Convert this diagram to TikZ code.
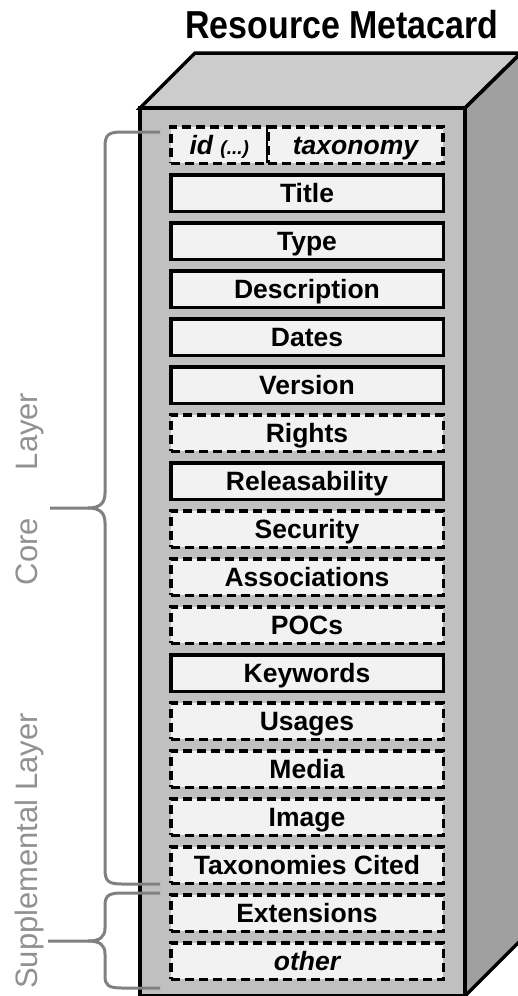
\documentclass[tikz,border=0pt]{standalone}
\usepackage{fontspec}
\setmainfont{Liberation Sans}
\usepackage{graphicx}
\definecolor{topgray}{RGB}{204,204,204}
\definecolor{frontgray}{RGB}{192,192,192}
\definecolor{sidegray}{RGB}{160,160,160}
\definecolor{cardfill}{RGB}{242,242,242}
\definecolor{bracegray}{RGB}{128,128,128}
\definecolor{labelgray}{RGB}{145,145,145}
\tikzset{
  field/.style={draw=black, line width=3.5pt, fill=cardfill,
    minimum width=272.5pt, minimum height=36.5pt, inner sep=2pt,
    text height=19pt, text depth=0pt,
    font=\fontsize{26.5}{30}\selectfont\bfseries},
  optfield/.style={field, dash pattern=on 9pt off 5pt},
  brace/.style={draw=bracegray, line width=3pt},
  layer/.style={rotate=90, anchor=base, text=labelgray,
    font=\fontsize{31}{36}\selectfont}
}

\begin{document}
\begin{tikzpicture}[x=1pt, y=-1pt]
    \useasboundingbox (0,0) rectangle (517,996);
    \node[anchor=base, font=\fontsize{39}{44}\selectfont\bfseries] (heading) at (342,38)
      {\scalebox{0.87}[1]{Resource Metacard}};
    % the card
    \filldraw[fill=topgray, line width=3.5pt] (140,108) -- (195,53) -- (521,53) -- (465,108) -- cycle;
    \filldraw[fill=sidegray, line width=3.5pt] (465,108) -- (521,53) -- (521,940) -- (465,996) -- cycle;
    \filldraw[fill=frontgray, line width=3.5pt] (140,108) rectangle (465,996);
    % fields
    \node[optfield, minimum width=97pt] (id) at (219.25,145)
      {\itshape id {\fontsize{19}{20}\selectfont(...)}};
    \node[optfield, minimum width=175pt] (taxonomy) at (355.5,145) {\itshape taxonomy};
    \node[field]    (title)        at (307,193) {Title};
    \node[field]    (type)         at (307,241) {Type};
    \node[field]    (description)  at (307,289) {Description};
    \node[field]    (dates)        at (307,337) {Dates};
    \node[field]    (version)      at (307,385) {Version};
    \node[optfield] (rights)       at (307,433) {Rights};
    \node[field]    (releasability) at (307,481) {Releasability};
    \node[optfield] (security)     at (307,529) {Security};
    \node[optfield] (associations) at (307,577) {Associations};
    \node[optfield] (pocs)         at (307,625) {POCs};
    \node[field]    (keywords)     at (307,673) {Keywords};
    \node[optfield] (usages)       at (307,721) {Usages};
    \node[optfield] (media)        at (307,769) {Media};
    \node[optfield] (image)        at (307,817) {Image};
    \node[optfield] (cited)        at (307,865) {Taxonomies Cited};
    \node[optfield] (extensions)   at (307,913) {Extensions};
    \node[optfield] (other)        at (307,961) {\itshape other};
    % layers
    \coordinate (coreTop) at (160,132);
    \coordinate (coreTip) at (50,508);
    \coordinate (coreBot) at (160,884);
    \coordinate (suppTop) at (160,893);
    \coordinate (suppTip) at (48,941);
    \coordinate (suppBot) at (160,988);
    \draw[brace] (coreTop) -- (122,132) .. controls (108,132) and (105,135) .. (105,147)
      -- (105,493) .. controls (105,503) and (100,508) .. (88,508) -- (coreTip);
    \draw[brace] (88,508) .. controls (100,508) and (105,513) .. (105,523)
      -- (105,869) .. controls (105,881) and (108,884) .. (122,884) -- (coreBot);
    \draw[brace] (suppTop) -- (122,893) .. controls (108,893) and (105,896) .. (105,906)
      -- (105,928) .. controls (105,937) and (100,941) .. (88,941) -- (suppTip);
    \draw[brace] (88,941) .. controls (100,941) and (105,945) .. (105,954)
      -- (105,976) .. controls (105,985) and (108,988) .. (122,988) -- (suppBot);
    \node[layer] (core) at (37,489) {Core\hspace{48pt}Layer};
    \node[layer] (supp) at (37,851) {Supplemental Layer};
\end{tikzpicture}
\end{document}
